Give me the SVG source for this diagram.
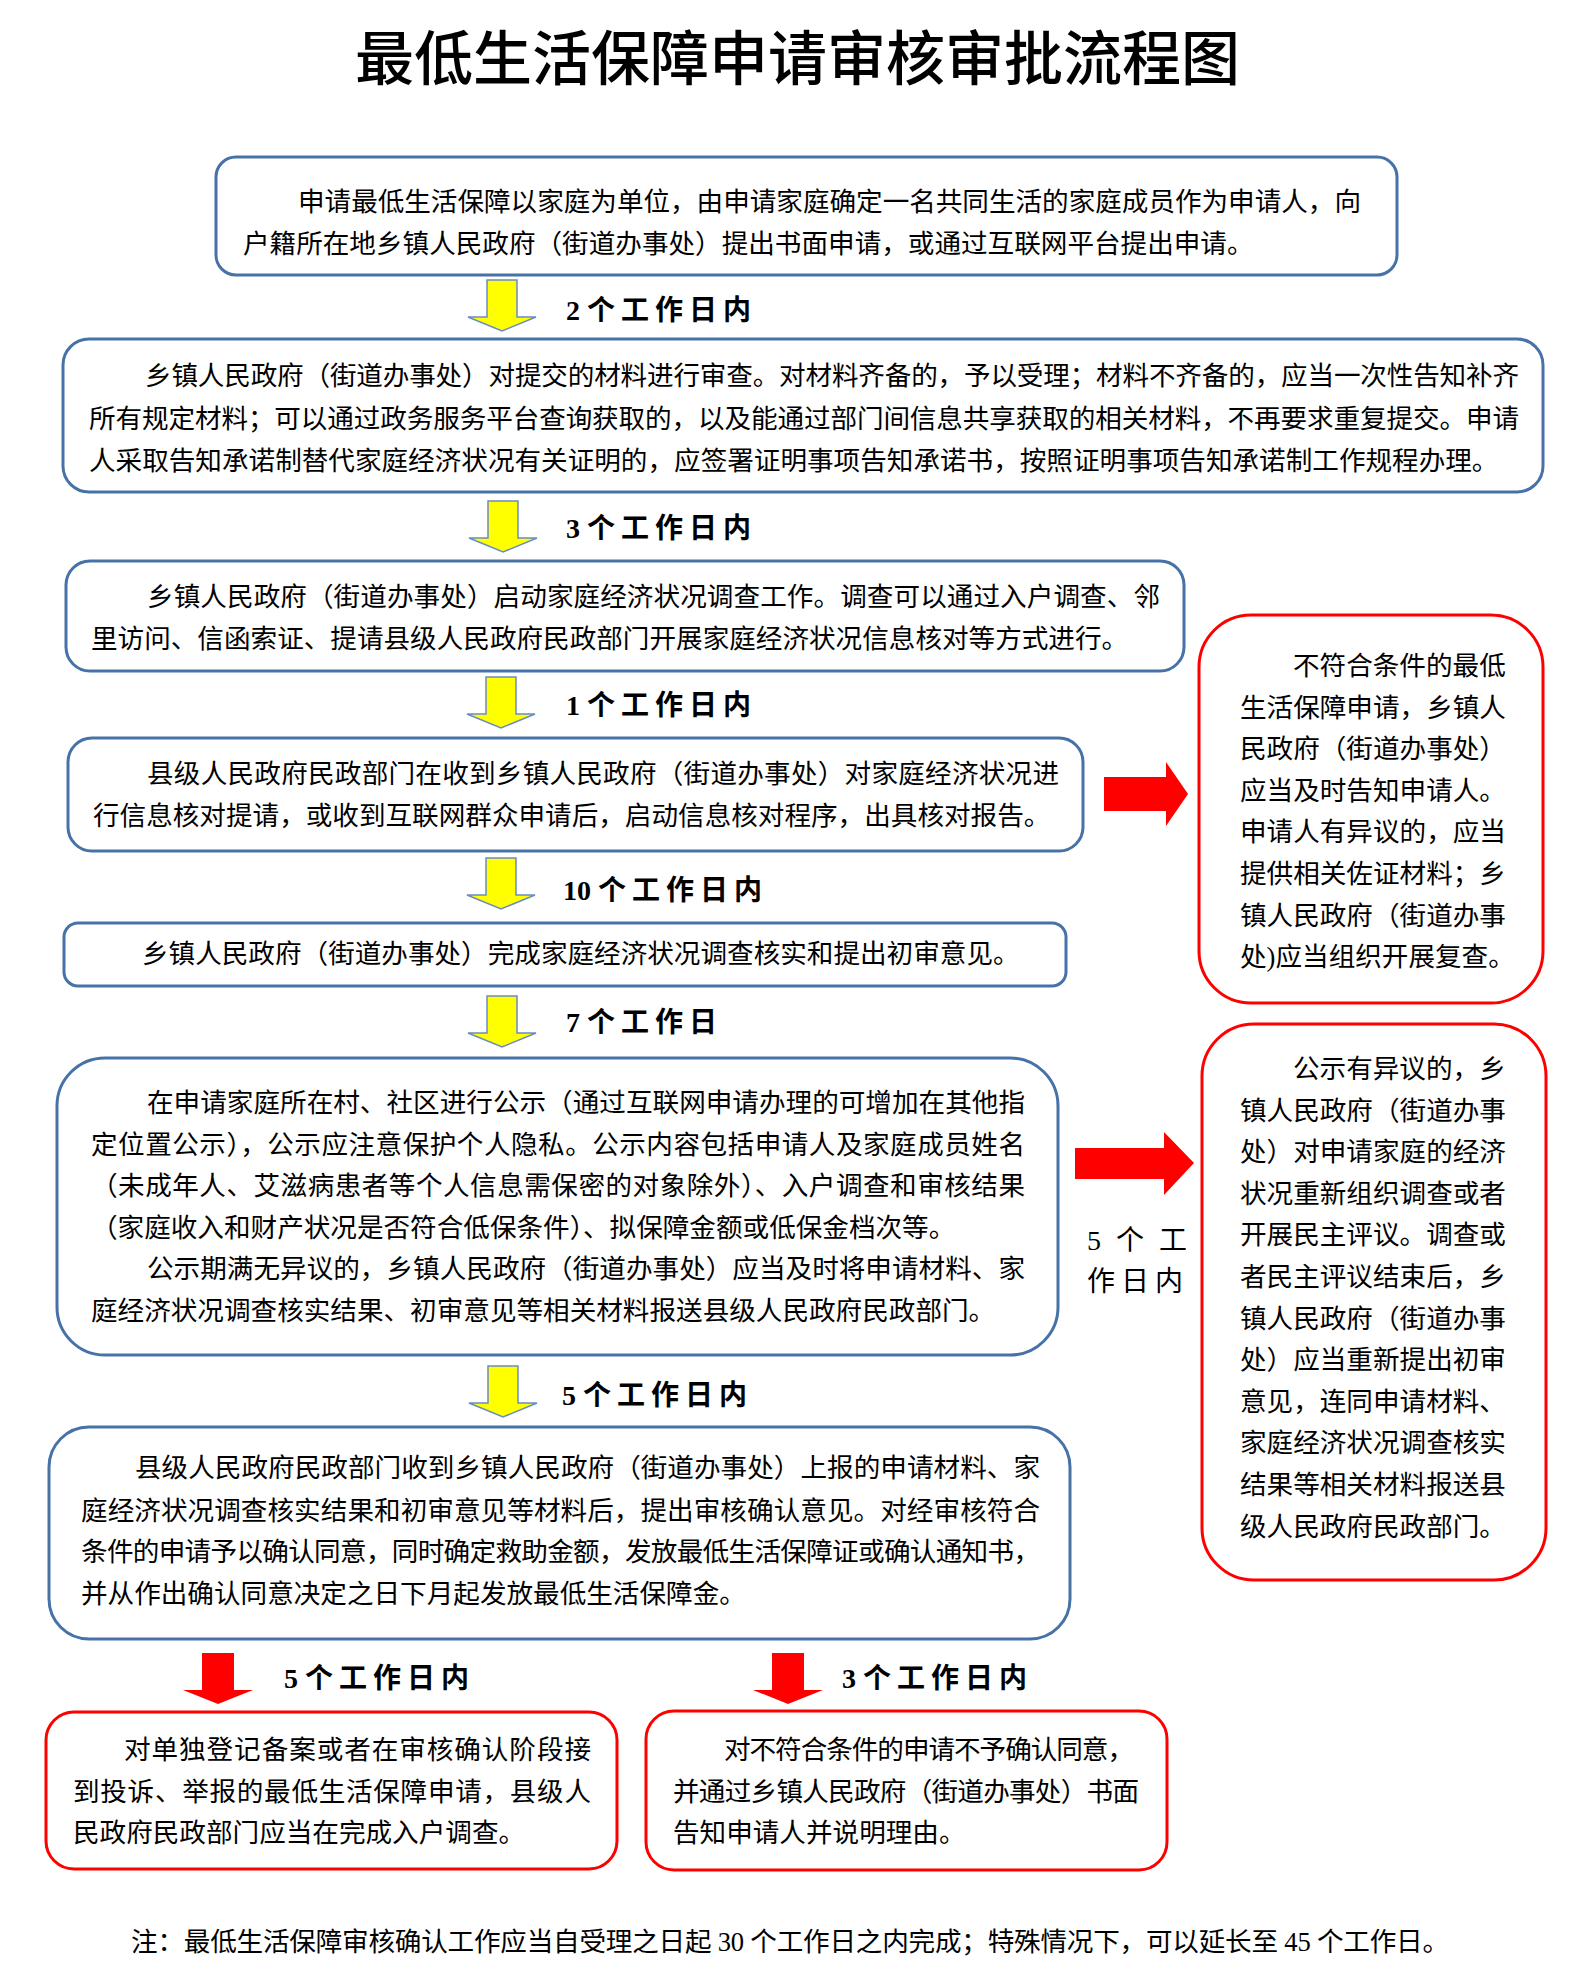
<svg xmlns="http://www.w3.org/2000/svg" xmlns:xlink="http://www.w3.org/1999/xlink" width="1587" height="1983" viewBox="0 0 1587 1983">
<style>
.bg{fill:#ffffff}
.bbox{fill:#ffffff;stroke:#4672A8;stroke-width:3}
.rbox{fill:#ffffff;stroke:#FF0000;stroke-width:3}
.t{font-family:"Liberation Serif","Noto Sans CJK SC",serif;font-size:26.6px;fill:#000000}
.lab{font-family:"Liberation Serif","Noto Sans CJK SC",serif;font-size:28px;font-weight:bold;fill:#000000}
.ls{letter-spacing:6px}
.side{font-family:"Liberation Serif","Noto Sans CJK SC",serif;font-size:28px;fill:#000000}
.title{font-family:"Noto Sans CJK SC",sans-serif;font-size:59px;font-weight:500;fill:#000000}
.ya{fill:#FFFF00;stroke:#6A8CC4;stroke-width:1.5}
.ra{fill:#FF0000;stroke:none}
</style>
<defs>
<path id="dArrow" d="M-15,0 H15 V37 H34 L0,51 L-34,37 H-15 Z"/>
<path id="dArrowR" d="M-16,0 H16 V37 H35 L0,51 L-35,37 H-16 Z"/>
</defs>
<rect class="bg" x="0" y="0" width="1587" height="1983"/>

<text id="title" class="title" x="355" y="80" textLength="885" lengthAdjust="spacing">最低生活保障申请审核审批流程图</text>

<g id="connectors">
<use xlink:href="#dArrow" href="#dArrow" class="ya" x="502" y="280"/>
<use xlink:href="#dArrow" href="#dArrow" class="ya" x="503" y="501"/>
<use xlink:href="#dArrow" href="#dArrow" class="ya" x="501" y="677"/>
<use xlink:href="#dArrow" href="#dArrow" class="ya" x="501" y="858"/>
<use xlink:href="#dArrow" href="#dArrow" class="ya" x="502" y="996"/>
<use xlink:href="#dArrow" href="#dArrow" class="ya" x="503" y="1366"/>
<use xlink:href="#dArrowR" href="#dArrowR" class="ra" x="218" y="1653"/>
<use xlink:href="#dArrowR" href="#dArrowR" class="ra" x="788" y="1653"/>
<path class="ra" d="M1104,777 H1166 V762 L1188,794 L1166,826 V811 H1104 Z"/>
<path class="ra" d="M1075,1148 H1164 V1132 L1194,1163 L1164,1195 V1179 H1075 Z"/>
<text class="lab" x="566" y="320">2 <tspan class="ls">个工作日内</tspan></text>
<text class="lab" x="566" y="538">3 <tspan class="ls">个工作日内</tspan></text>
<text class="lab" x="566" y="715">1 <tspan class="ls">个工作日内</tspan></text>
<text class="lab" x="563" y="900">10 <tspan class="ls">个工作日内</tspan></text>
<text class="lab" x="566" y="1032">7 <tspan class="ls">个工作日</tspan></text>
<text class="lab" x="562" y="1405">5 <tspan class="ls">个工作日内</tspan></text>
<text class="lab" x="284" y="1688">5 <tspan class="ls">个工作日内</tspan></text>
<text class="lab" x="842" y="1688">3 <tspan class="ls">个工作日内</tspan></text>
<text class="side" x="1087" y="1250" letter-spacing="4">5 个 工</text>
<text class="side" x="1087" y="1291" letter-spacing="6">作日内</text>
</g>

<g id="node1">
<rect class="bbox" x="216" y="157" width="1181" height="118" rx="20" ry="20"/>
<text class="t" x="298" y="211" textLength="1063" lengthAdjust="spacing">申请最低生活保障以家庭为单位，由申请家庭确定一名共同生活的家庭成员作为申请人，向</text>
<text class="t" x="243" y="253">户籍所在地乡镇人民政府（街道办事处）提出书面申请，或通过互联网平台提出申请。</text>
</g>

<g id="node2">
<rect class="bbox" x="63" y="339" width="1480" height="153" rx="26" ry="26"/>
<text class="t" x="145" y="385" textLength="1374" lengthAdjust="spacing">乡镇人民政府（街道办事处）对提交的材料进行审查。对材料齐备的，予以受理；材料不齐备的，应当一次性告知补齐</text>
<text class="t" x="89" y="428" textLength="1430" lengthAdjust="spacing">所有规定材料；可以通过政务服务平台查询获取的，以及能通过部门间信息共享获取的相关材料，不再要求重复提交。申请</text>
<text class="t" x="89" y="470">人采取告知承诺制替代家庭经济状况有关证明的，应签署证明事项告知承诺书，按照证明事项告知承诺制工作规程办理。</text>
</g>

<g id="node3">
<rect class="bbox" x="66" y="561" width="1118" height="110" rx="24" ry="24"/>
<text class="t" x="147" y="606" textLength="1013" lengthAdjust="spacing">乡镇人民政府（街道办事处）启动家庭经济状况调查工作。调查可以通过入户调查、邻</text>
<text class="t" x="91" y="648">里访问、信函索证、提请县级人民政府民政部门开展家庭经济状况信息核对等方式进行。</text>
</g>

<g id="node4">
<rect class="bbox" x="68" y="738" width="1015" height="113" rx="24" ry="24"/>
<text class="t" x="147" y="783" textLength="912" lengthAdjust="spacing">县级人民政府民政部门在收到乡镇人民政府（街道办事处）对家庭经济状况进</text>
<text class="t" x="93" y="825">行信息核对提请，或收到互联网群众申请后，启动信息核对程序，出具核对报告。</text>
</g>

<g id="node5">
<rect class="bbox" x="64" y="923" width="1002" height="63" rx="14" ry="14"/>
<text class="t" x="142" y="963">乡镇人民政府（街道办事处）完成家庭经济状况调查核实和提出初审意见。</text>
</g>

<g id="node6">
<rect class="bbox" x="57" y="1058" width="1001" height="297" rx="48" ry="48"/>
<text class="t" x="147" y="1112" textLength="878" lengthAdjust="spacing">在申请家庭所在村、社区进行公示（通过互联网申请办理的可增加在其他指</text>
<text class="t" x="91" y="1153.6" textLength="934" lengthAdjust="spacing">定位置公示），公示应注意保护个人隐私。公示内容包括申请人及家庭成员姓名</text>
<text class="t" x="91" y="1195.2" textLength="934" lengthAdjust="spacing">（未成年人、艾滋病患者等个人信息需保密的对象除外）、入户调查和审核结果</text>
<text class="t" x="91" y="1236.8">（家庭收入和财产状况是否符合低保条件）、拟保障金额或低保金档次等。</text>
<text class="t" x="147" y="1278.4" textLength="878" lengthAdjust="spacing">公示期满无异议的，乡镇人民政府（街道办事处）应当及时将申请材料、家</text>
<text class="t" x="91" y="1320">庭经济状况调查核实结果、初审意见等相关材料报送县级人民政府民政部门。</text>
</g>

<g id="node7">
<rect class="bbox" x="49" y="1427" width="1021" height="212" rx="40" ry="40"/>
<text class="t" x="135" y="1477" textLength="905" lengthAdjust="spacing">县级人民政府民政部门收到乡镇人民政府（街道办事处）上报的申请材料、家</text>
<text class="t" x="81" y="1519.5" textLength="959" lengthAdjust="spacing">庭经济状况调查核实结果和初审意见等材料后，提出审核确认意见。对经审核符合</text>
<text class="t" x="81" y="1561" textLength="959" lengthAdjust="spacing">条件的申请予以确认同意，同时确定救助金额，发放最低生活保障证或确认通知书，</text>
<text class="t" x="81" y="1603">并从作出确认同意决定之日下月起发放最低生活保障金。</text>
</g>

<g id="side1">
<rect class="rbox" x="1199" y="615" width="344" height="388" rx="52" ry="52"/>
<text class="t" x="1293" y="675">不符合条件的最低</text>
<text class="t" x="1240" y="716.6">生活保障申请，乡镇人</text>
<text class="t" x="1240" y="758.2">民政府（街道办事处）</text>
<text class="t" x="1240" y="799.8">应当及时告知申请人。</text>
<text class="t" x="1240" y="841.4">申请人有异议的，应当</text>
<text class="t" x="1240" y="883">提供相关佐证材料；乡</text>
<text class="t" x="1240" y="924.6">镇人民政府（街道办事</text>
<text class="t" x="1240" y="966.2">处)应当组织开展复查。</text>
</g>

<g id="side2">
<rect class="rbox" x="1202" y="1024" width="344" height="556" rx="52" ry="52"/>
<text class="t" x="1293" y="1078">公示有异议的，乡</text>
<text class="t" x="1240" y="1119.6">镇人民政府（街道办事</text>
<text class="t" x="1240" y="1161.2">处）对申请家庭的经济</text>
<text class="t" x="1240" y="1202.8">状况重新组织调查或者</text>
<text class="t" x="1240" y="1244.4">开展民主评议。调查或</text>
<text class="t" x="1240" y="1286">者民主评议结束后，乡</text>
<text class="t" x="1240" y="1327.6">镇人民政府（街道办事</text>
<text class="t" x="1240" y="1369.2">处）应当重新提出初审</text>
<text class="t" x="1240" y="1410.8">意见，连同申请材料、</text>
<text class="t" x="1240" y="1452.4">家庭经济状况调查核实</text>
<text class="t" x="1240" y="1494">结果等相关材料报送县</text>
<text class="t" x="1240" y="1535.6">级人民政府民政部门。</text>
</g>

<g id="node8">
<rect class="rbox" x="46" y="1712" width="571" height="157" rx="28" ry="28"/>
<text class="t" x="124" y="1759" textLength="467" lengthAdjust="spacing">对单独登记备案或者在审核确认阶段接</text>
<text class="t" x="73" y="1800.5" textLength="518" lengthAdjust="spacing">到投诉、举报的最低生活保障申请，县级人</text>
<text class="t" x="73" y="1842">民政府民政部门应当在完成入户调查。</text>
</g>

<g id="node9">
<rect class="rbox" x="646" y="1711" width="521" height="159" rx="28" ry="28"/>
<text class="t" x="724" y="1759" textLength="410" lengthAdjust="spacing">对不符合条件的申请不予确认同意，</text>
<text class="t" x="673" y="1800.5" textLength="466" lengthAdjust="spacing">并通过乡镇人民政府（街道办事处）书面</text>
<text class="t" x="673" y="1842">告知申请人并说明理由。</text>
</g>

<text id="note" class="t" x="131" y="1951" textLength="1318" lengthAdjust="spacing">注：最低生活保障审核确认工作应当自受理之日起 30 个工作日之内完成；特殊情况下，可以延长至 45 个工作日。</text>
</svg>
